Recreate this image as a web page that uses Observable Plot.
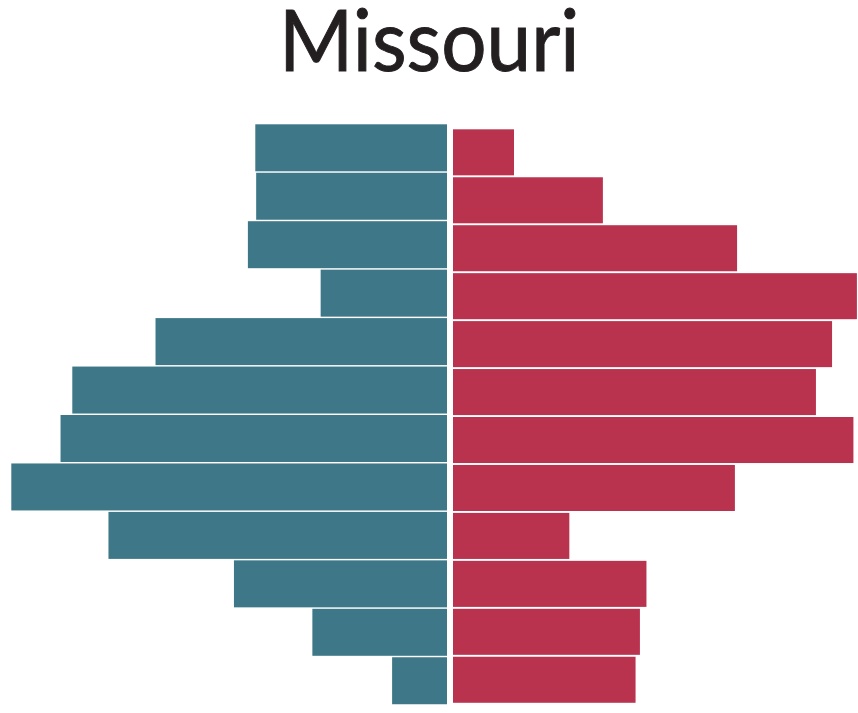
<!DOCTYPE html>
<html>
<head>
<meta charset="utf-8">
<script src="https://cdn.jsdelivr.net/npm/d3@7"></script>
<script src="https://cdn.jsdelivr.net/npm/@observablehq/plot@0.6"></script>
<style>
  html, body { margin: 0; padding: 0; background: #fff; }
  #wrap { position: relative; width: 858px; height: 713px; overflow: hidden; }
  #title { position: absolute; left: 0; width: 858px; top: 0; text-align: center;
           font-family: Lato, "Noto Sans", sans-serif; font-size: 86px; line-height: 0.88;
           color: #231f20; margin: 0; font-weight: 400;
           -webkit-text-stroke: 1px #231f20;
           transform: scaleX(0.93); transform-origin: 433px 0; }
  .layer { position: absolute; left: 0; top: 0; }
</style>
</head>
<body>
<div id="wrap">
  <div id="title">Missouri</div>
  <div id="left" class="layer"></div>
  <div id="right" class="layer"></div>
</div>
<script>
const categories = ["1","2","3","4","5","6","7","8","9","10","11","12"];
const leftValues  = [44.0, 43.8, 45.7, 29.0, 66.9, 86.0, 88.7, 100.0, 77.7, 48.9, 30.9, 12.6];
const rightValues = [14.0, 34.4, 65.2, 92.7, 87.0, 83.3, 91.9, 64.7, 26.7, 44.4, 42.9, 41.9];
const leftColor = "#3e7888";
const rightColor = "#b9324e";

const leftData = categories.map((c, i) => ({cat: c, value: leftValues[i]}));
const rightData = categories.map((c, i) => ({cat: c, value: rightValues[i]}));

const leftPlot = Plot.plot({
  width: 858, height: 713,
  margin: 0,
  x: {domain: [0, 100], range: [447, 11.3], axis: null},
  y: {domain: categories, range: [122.85, 705.7], padding: 0.03, round: false, axis: null},
  marks: [
    Plot.barX(leftData, {x: "value", y: "cat", fill: leftColor})
  ]
});
const rightPlot = Plot.plot({
  width: 858, height: 713,
  margin: 0,
  x: {domain: [0, 100], range: [453, 888.7], axis: null},
  y: {domain: categories, range: [127.4, 704.7], padding: 0.04, round: false, axis: null},
  marks: [
    Plot.barX(rightData, {x: "value", y: "cat", fill: rightColor})
  ]
});
leftPlot.style.background = "transparent";
rightPlot.style.background = "transparent";
document.getElementById("left").appendChild(leftPlot);
document.getElementById("right").appendChild(rightPlot);
</script>
</body>
</html>
